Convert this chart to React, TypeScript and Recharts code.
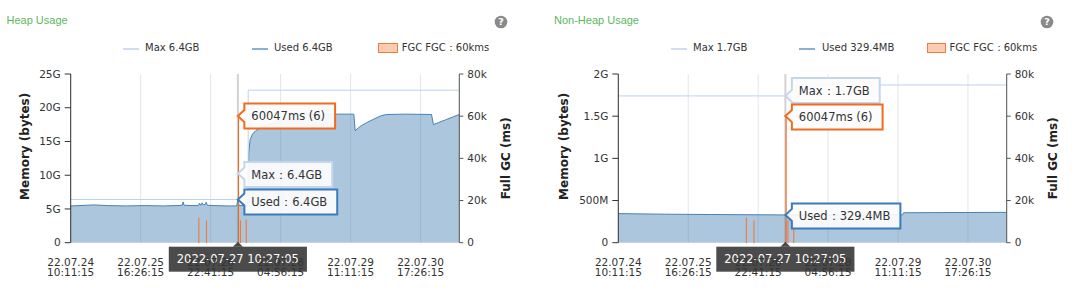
import React from 'react';
import {
  ComposedChart, Area, Line, Bar, XAxis, YAxis, CartesianGrid, ReferenceLine, ReferenceDot,
} from 'recharts';

// ---------- data ----------
const TICK_HOURS = [0, 30.25, 60.5, 90.75, 121, 151.25];
const TICK_DATES = ['22.07.24', '22.07.25', '22.07.26', '22.07.28', '22.07.29', '22.07.30'];
const TICK_TIMES = ['10:11:15', '16:26:15', '22:41:15', '04:56:15', '11:11:15', '17:26:15'];

const HOVER_HOUR = 72.265;
const HOVER_LABEL = '2022-07-27 10:27:05';

const HEAP_HOURS = [0, 4, 10, 16, 24, 32, 40, 46, 48.2, 48.6, 49.0, 52, 55.2, 55.7, 56.2, 56.8, 57.3, 58.2, 58.6, 59.0, 62, 68, 71.8, 72.265, 72.8, 76.5, 77.0, 77.6, 78.6, 80, 82, 85, 89, 93, 97, 100, 110, 122.4, 123.0, 125, 128, 131, 134, 136.5, 145, 156.0, 156.8, 159, 162, 165, 168];
const HEAP_USED_G = [5.45, 5.5, 5.6, 5.5, 5.45, 5.5, 5.45, 5.5, 5.55, 6.05, 5.55, 5.5, 5.5, 5.85, 5.55, 5.9, 5.6, 5.7, 6.0, 5.55, 5.5, 5.45, 5.45, 6.4, 5.5, 5.5, 13.5, 15.3, 16.1, 16.6, 17.0, 17.4, 17.9, 18.4, 18.8, 19.0, 19.05, 19.05, 16.6, 17.2, 17.8, 18.3, 18.8, 19.0, 19.05, 19.0, 17.5, 17.8, 18.2, 18.6, 19.0];
const HEAP_MAX_HOURS = [0, 72.265, 76.7, 76.75, 168];
const HEAP_MAX_G = [6.4, 6.4, 6.4, 22.6, 22.6];

const NONHEAP_HOURS = [0, 20, 40, 60, 72.265, 100, 123.0, 123.4, 140, 168];
const NONHEAP_USED_MB = [345, 338, 334, 331, 329.4, 329, 330, 355, 357, 360];
const NONHEAP_MAX_HOURS = [0, 76.7, 76.75, 168];
const NONHEAP_MAX_MB = [1740, 1740, 1870, 1870];

const FGC_HOURS = [55.4, 58.7, 72.55, 73.4, 75.9];
const FGC_MS = [11700, 10300, 60047, 10400, 10800];

const HEAP_TICKS = [0, 5, 10, 15, 20, 25];
const NONHEAP_TICKS = [0, 500, 1000, 1500, 2000];
const FGC_TICKS = [0, 20000, 40000, 60000, 80000];

// ---------- helpers ----------
function buildRows(parts: [number[], number[], string][]) {
  const m = new Map<number, any>();
  parts.forEach(([hs, vs, key]) => {
    hs.forEach((h, i) => {
      const r = m.get(h) ?? { t: h };
      r[key] = vs[i];
      m.set(h, r);
    });
  });
  return Array.from(m.values()).sort((a, b) => a.t - b.t);
}

const FONT = "'DejaVu Sans', Verdana, sans-serif";
let ctx: CanvasRenderingContext2D | null = null;
function measure(text: string, size = 11.5) {
  try {
    if (!ctx) ctx = document.createElement('canvas').getContext('2d');
    if (ctx) {
      ctx.font = `${size}px 'DejaVu Sans'`;
      return ctx.measureText(text).width;
    }
  } catch (e) { /* ignore */ }
  return text.length * size * 0.6;
}

const XTick = (props: any) => {
  const { x, y, payload } = props;
  const i = TICK_HOURS.indexOf(payload.value);
  return (
    <g>
      <text x={x} y={y + 23} textAnchor="middle" fontSize={10.5} fill="#333" fontFamily={FONT}>{TICK_DATES[i]}</text>
      <text x={x} y={y + 33.5} textAnchor="middle" fontSize={10.5} fill="#333" fontFamily={FONT}>{TICK_TIMES[i]}</text>
    </g>
  );
};

const AxisTitle = (props: any) => {
  const { viewBox, text, dx, dy = 0 } = props;
  if (!viewBox) return null;
  const cx = viewBox.x + dx;
  const cy = viewBox.y + viewBox.height / 2 + dy;
  return (
    <text x={cx} y={cy} transform={`rotate(-90 ${cx} ${cy})`} textAnchor="middle" dominantBaseline="central"
      fontWeight="bold" fontSize={12} fill="#222" fontFamily={FONT}>{text}</text>
  );
};

const Callout = (props: any) => {
  const { cx, cy, text, stroke, boxDy = 0, tipDy = 0 } = props;
  if (cx == null || cy == null) return null;
  const w = measure(text) + 17;
  const h = 25;
  const bx = cx + 6.5;
  const mid = cy + boxDy;
  const top = mid - h / 2;
  const ty = cy + tipDy;
  const d = `M${bx},${top} H${bx + w} V${top + h} H${bx} V${ty + 6} L${cx},${ty} L${bx},${ty - 6} Z`;
  return (
    <g>
      <path d={d} fill="rgba(252,252,252,0.92)" stroke={stroke} strokeWidth={2} strokeLinejoin="miter" />
      <text x={bx + 7} y={mid} dy="0.36em" fontSize={11.5} fill="#333" fontFamily={FONT}>{text}</text>
    </g>
  );
};

const TimeTip = (props: any) => {
  const { cx, cy } = props;
  if (cx == null || cy == null) return null;
  const w = measure(HOVER_LABEL) + 16;
  const top = cy + 4;
  return (
    <g>
      <path d={`M${cx - 5},${top} L${cx},${cy - 1} L${cx + 5},${top} Z`} fill="rgba(55,55,55,0.9)" />
      <rect x={cx - w / 2} y={top} width={w} height={25} fill="rgba(55,55,55,0.9)" />
      <text x={cx} y={top + 12.5} dy="0.36em" textAnchor="middle" fontSize={11.5} fill="#fff" fontFamily={FONT}>{HOVER_LABEL}</text>
    </g>
  );
};

const FgcBar = (props: any) => {
  const { x, y, width, height, payload } = props;
  if (!payload || payload.fgc == null || !height || height <= 0) return null;
  const hovered = payload.t === FGC_HOURS[2];
  return (
    <rect x={x} y={y} width={width} height={height}
      fill={hovered ? '#f7884a' : '#f9b590'} stroke={hovered ? '#f26a1e' : '#ee7a40'} strokeWidth={1} />
  );
};

const HelpIcon = ({ left }: { left: number }) => (
  <svg style={{ position: 'absolute', left: left - 7, top: 14.5 }} width={14} height={14}>
    <circle cx={7} cy={7} r={6.3} fill="#8a8a8a" />
    <text x={7} y={7} dy="0.36em" textAnchor="middle" fontSize={9.5} fontWeight="bold" fill="#fff" fontFamily={FONT}>?</text>
  </svg>
);

type LegendPos = { maxSym: number; maxText: number; usedSym: number; usedText: number; fgcSym: number; fgcText: number };

const LegendRow = ({ pos, maxText, usedText }: { pos: LegendPos; maxText: string; usedText: string }) => {
  const txt: React.CSSProperties = { position: 'absolute', top: 42, fontSize: 10, lineHeight: '12px', color: '#333', fontFamily: FONT, whiteSpace: 'nowrap' };
  return (
    <>
      <div style={{ position: 'absolute', left: pos.maxSym, top: 47.5, width: 16, height: 2, background: '#cfdef0' }} />
      <div style={{ ...txt, left: pos.maxText }}>{maxText}</div>
      <div style={{ position: 'absolute', left: pos.usedSym, top: 47.5, width: 16, height: 2, background: '#86b1d8' }} />
      <div style={{ ...txt, left: pos.usedText }}>{usedText}</div>
      <div style={{ position: 'absolute', left: pos.fgcSym, top: 43.3, width: 17.5, height: 8, background: '#fdcbb1', border: '1px solid #f07c3e' }} />
      <div style={{ ...txt, left: pos.fgcText }}>FGC FGC：60kms</div>
    </>
  );
};

type PanelProps = {
  left: number;
  title: string;
  titleLeft: number;
  helpLeft: number;
  legend: LegendPos;
  maxText: string;
  usedText: string;
  rows: any[];
  leftTicks: number[];
  leftFmt: (v: number) => string;
  leftWidth: number;
  marginRight: number;
  memTitleDx: number;
  usedLabel: string;
  maxLabel: string;
  maxBoxDy: number;
  maxTipDy: number;
  usedBoxDy: number;
  fgcBoxDy: number;
  hoverUsed: number;
  hoverMax: number;
};

const Panel = (p: PanelProps) => (
  <div style={{ position: 'absolute', left: p.left, top: 0, width: 540, height: 291 }}>
    <div style={{ position: 'absolute', left: p.titleLeft, top: 14, fontSize: 11, lineHeight: '13px', color: '#5cb85c', fontFamily: "'Liberation Sans', Arial, sans-serif" }}>{p.title}</div>
    <HelpIcon left={p.helpLeft} />
    <LegendRow pos={p.legend} maxText={p.maxText} usedText={p.usedText} />
    <div style={{ position: 'absolute', left: 0, top: 0 }}>
      <ComposedChart width={540} height={291} data={p.rows}
        margin={{ top: 74, right: p.marginRight, bottom: 17.3, left: 0 }}>
        <CartesianGrid yAxisId="left" vertical horizontal={false} stroke="#e5e5e5" />
        <XAxis dataKey="t" type="number" domain={[0, 168]} ticks={TICK_HOURS} interval={0}
          tick={<XTick />} tickLine={false} axisLine={false} tickSize={0} tickMargin={0} height={31} />
        <YAxis yAxisId="left" orientation="left" width={p.leftWidth} domain={[p.leftTicks[0], p.leftTicks[p.leftTicks.length - 1]]}
          ticks={p.leftTicks} interval={0} tickFormatter={p.leftFmt} tickSize={6} tickMargin={4}
          tick={{ fontSize: 10.5, fill: '#333', fontFamily: FONT }}
          axisLine={{ stroke: '#333' }} tickLine={{ stroke: '#333' }}
          label={<AxisTitle text="Memory (bytes)" dx={p.memTitleDx} dy={-12} />} />
        <YAxis yAxisId="right" orientation="right" width={59.7} domain={[0, 80000]}
          ticks={FGC_TICKS} interval={0} tickFormatter={(v: number) => (v === 0 ? '0' : `${v / 1000}k`)}
          tickSize={4} tickMargin={4}
          tick={{ fontSize: 10.5, fill: '#333', fontFamily: FONT }}
          axisLine={{ stroke: '#555' }} tickLine={{ stroke: '#555' }}
          label={<AxisTitle text="Full GC (ms)" dx={46.5} dy={0} />} />
        <ReferenceLine yAxisId="left" x={HOVER_HOUR} stroke="#d2d2d2" strokeWidth={2} zIndex={50} />
        <Area yAxisId="left" dataKey="used" type="linear" stroke="#4682b4" strokeWidth={1}
          fill="#4682b4" fillOpacity={0.45} connectNulls dot={false} activeDot={false} isAnimationActive={false} />
        <Line yAxisId="left" dataKey="max" type="linear" stroke="#bcd3ec" strokeWidth={1}
          connectNulls dot={false} activeDot={false} isAnimationActive={false} />
        <Bar yAxisId="right" dataKey="fgc" barSize={3} shape={(bp: any) => <FgcBar {...bp} />} isAnimationActive={false} />
        <ReferenceDot yAxisId="left" x={HOVER_HOUR} y={p.hoverMax} ifOverflow="visible"
          shape={(sp: any) => <Callout {...sp} text={p.maxLabel} stroke="#c5d6ea" boxDy={p.maxBoxDy} tipDy={p.maxTipDy} />} />
        <ReferenceDot yAxisId="right" x={HOVER_HOUR} y={60047} ifOverflow="visible"
          shape={(sp: any) => <Callout {...sp} text="60047ms (6)" stroke="#f26a1e" boxDy={p.fgcBoxDy} />} />
        <ReferenceDot yAxisId="left" x={HOVER_HOUR} y={p.hoverUsed} ifOverflow="visible"
          shape={(sp: any) => <Callout {...sp} text={p.usedLabel} stroke="#3a7bbd" boxDy={p.usedBoxDy} />} />
        <ReferenceDot yAxisId="left" x={HOVER_HOUR} y={0} ifOverflow="visible"
          shape={(sp: any) => <TimeTip {...sp} />} />
      </ComposedChart>
    </div>
  </div>
);

const heapRows = buildRows([
  [HEAP_HOURS, HEAP_USED_G, 'used'],
  [HEAP_MAX_HOURS, HEAP_MAX_G, 'max'],
  [FGC_HOURS, FGC_MS, 'fgc'],
]);
const nonHeapRows = buildRows([
  [NONHEAP_HOURS, NONHEAP_USED_MB, 'used'],
  [NONHEAP_MAX_HOURS, NONHEAP_MAX_MB, 'max'],
  [FGC_HOURS, FGC_MS, 'fgc'],
]);

export default function App() {
  return (
    <div style={{ position: 'absolute', left: 0, top: 0, width: 1080, height: 291, background: '#fff', fontFamily: FONT, overflow: 'hidden' }}>
      <Panel
        left={0} title="Heap Usage" titleLeft={6.5} helpLeft={500.5}
        legend={{ maxSym: 123, maxText: 145, usedSym: 252, usedText: 274, fgcSym: 378.3, fgcText: 401.7 }}
        maxText="Max 6.4GB" usedText="Used 6.4GB"
        rows={heapRows} leftTicks={HEAP_TICKS} leftFmt={(v) => (v === 0 ? '0' : `${v}G`)}
        leftWidth={70.7} marginRight={21} memTitleDx={25}
        usedLabel="Used：6.4GB" maxLabel="Max：6.4GB" maxBoxDy={-25} maxTipDy={-26}
        usedBoxDy={2.5} fgcBoxDy={0} hoverUsed={6.4} hoverMax={6.4}
      />
      <Panel
        left={540} title="Non-Heap Usage" titleLeft={14} helpLeft={507}
        legend={{ maxSym: 130.7, maxText: 153, usedSym: 259, usedText: 282, fgcSym: 386.7, fgcText: 409.5 }}
        maxText="Max 1.7GB" usedText="Used 329.4MB"
        rows={nonHeapRows} leftTicks={NONHEAP_TICKS}
        leftFmt={(v) => (v === 0 ? '0' : v >= 1000 ? `${v / 1000}G` : `${v}M`)}
        leftWidth={78.3} marginRight={13.6} memTitleDx={24}
        usedLabel="Used：329.4MB" maxLabel="Max：1.7GB" maxBoxDy={-5.5} maxTipDy={0}
        usedBoxDy={1} fgcBoxDy={1} hoverUsed={329.4} hoverMax={1740}
      />
    </div>
  );
}
